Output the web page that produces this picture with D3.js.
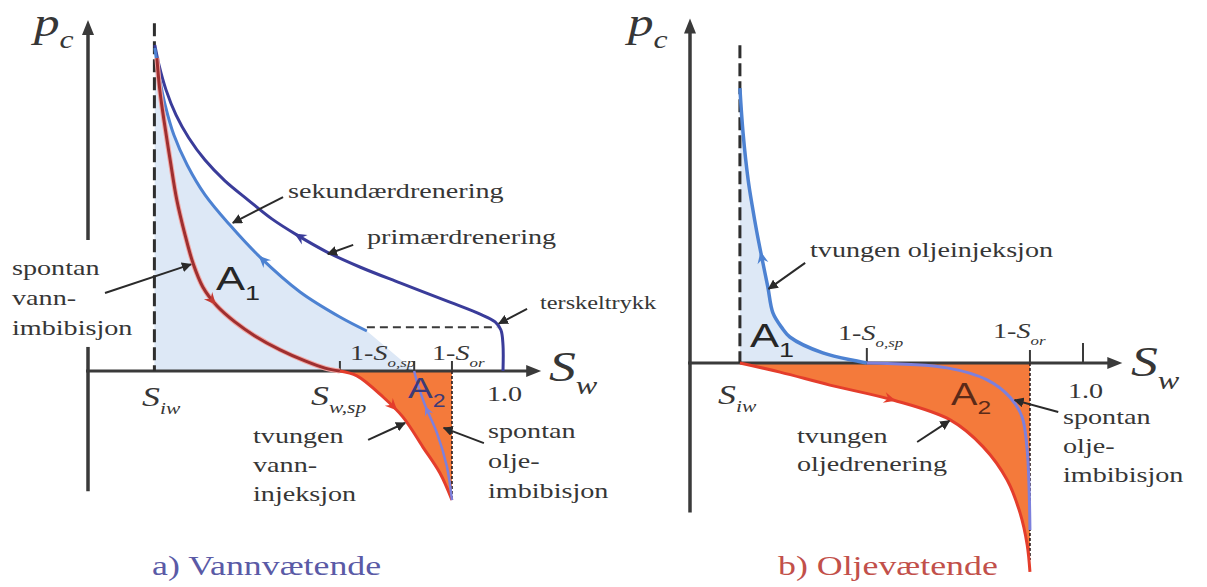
<!DOCTYPE html>
<html>
<head>
<meta charset="utf-8">
<script src="https://cdn.jsdelivr.net/npm/d3@7"></script>
<style>
  html, body { margin: 0; padding: 0; background: #ffffff; }
  svg { display: block; }
  text { font-family: "Liberation Serif", "DejaVu Serif", serif; fill: #363636; }
</style>
</head>
<body>
<svg id="chart" width="1207" height="587"></svg>
<script>
// ---------------------------------------------------------------
// Capillary pressure pc versus water saturation Sw (schematic).
// Saturations are fractions, pc is in relative units.
// ---------------------------------------------------------------

// a) water-wet rock: characteristic saturations
const wwSaturations = { Siw: 0.16, Swsp: 0.607, Sosp: 0.786, Sor: 0.877, one: 1.0 };
const wwThresholdPc = 13.5;

// primary drainage, travelled from Sw = 1.0 towards Siw
const wwPrimaryDrainage = [
  [1.0, 0], [1.0, 8.0], [0.995, 12.6], [0.981, 15.1], [0.945, 17.5], [0.872, 21.2],
  [0.752, 27.1], [0.655, 32.0], [0.576, 36.6], [0.504, 41.8], [0.443, 46.8],
  [0.386, 52.6], [0.33, 58.5], [0.282, 64.9], [0.243, 71.7], [0.212, 78.8],
  [0.188, 86.5], [0.171, 94.2], [0.161, 100.3]
];
// secondary drainage, travelled towards Siw
const wwSecondaryDrainage = [
  [0.672, 12.3], [0.607, 16.6], [0.511, 24.3], [0.414, 35.1], [0.342, 44.9],
  [0.282, 54.2], [0.239, 63.4], [0.207, 72.6], [0.186, 81.8], [0.171, 91.1], [0.161, 99.4]
];
// spontaneous water imbibition, from Siw down to Sw,sp
const wwSpontaneousWaterImbibition = [
  [0.166, 96.3], [0.173, 86.5], [0.183, 77.2], [0.198, 64.9], [0.214, 52.6],
  [0.234, 41.8], [0.253, 33.2], [0.277, 25.8], [0.311, 20.0], [0.354, 15.1],
  [0.402, 10.8], [0.463, 6.5], [0.523, 3.1], [0.571, 0.9], [0.607, 0]
];
// forced water injection, from Sw,sp to 1-Sor
const wwForcedWaterInjection = [
  [0.607, 0], [0.648, -1.5], [0.711, -8.0], [0.759, -14.2], [0.807, -23.4],
  [0.848, -31.4], [0.877, -39.7]
];
// spontaneous oil imbibition, from 1-Sor back to 1-So,sp
const wwSpontaneousOilImbibition = [
  [0.877, -39.7], [0.865, -29.5], [0.841, -19.1], [0.812, -10.5], [0.795, -4.3], [0.786, 0]
];

// b) oil-wet rock: characteristic saturations
const owSaturations = { Siw: 0.127, Sosp: 0.45, Sor: 0.865, one: 1.0 };

// forced oil injection, from 1-So,sp up towards Siw
const owForcedOilInjection = [
  [0.45, 0], [0.425, 0.6], [0.338, 3.1], [0.254, 8.0], [0.234, 10.8], [0.211, 15.4],
  [0.198, 23.4], [0.183, 32.3], [0.17, 40.3], [0.158, 48.6], [0.148, 56.3],
  [0.135, 70.8], [0.127, 84.6]
];
// forced oil drainage, from Siw to 1-Sor
const owForcedOilDrainage = [
  [0.127, 0], [0.229, -2.8], [0.356, -6.8], [0.517, -11.4], [0.662, -17.5],
  [0.746, -25.8], [0.807, -36.0], [0.84, -46.2], [0.858, -56.0], [0.865, -64.3]
];
// spontaneous oil imbibition, from 1-Sor back to 1-So,sp
const owSpontaneousOilImbibition = [
  [0.865, -51.4], [0.863, -39.1], [0.858, -26.8], [0.845, -16.6], [0.814, -10.5],
  [0.756, -5.2], [0.654, -1.5], [0.45, 0]
];

// ---------------------------------------------------------------
const C = {
  axis: "#3a3a3a",
  primary: "#3a3c9a",
  secondary: "#4d82d2",
  imbRed: "#9e2f30",
  imbHalo: "#f2a6a2",
  injRed: "#e43d2b",
  spontBlue: "#7d80dc",
  orange: "#f47a3b",
  lightBlue: "#dde8f6"
};
const SX = 1.28;   // wide lettering: horizontal text stretch

const svg = d3.select("#chart");

svg.append("defs").append("marker")
  .attr("id", "annot-head")
  .attr("viewBox", "0 0 10 10")
  .attr("refX", 9).attr("refY", 5)
  .attr("markerWidth", 5).attr("markerHeight", 5)
  .attr("markerUnits", "strokeWidth")
  .attr("orient", "auto")
  .append("path").attr("d", "M0,0 L10,5 L0,10 Z").attr("fill", "#2a2a2a");

// text helpers -------------------------------------------------
function richText(g, x, y, parts, size, color) {
  const t = g.append("text")
    .attr("transform", `translate(${x},${y}) scale(${SX},1)`)
    .attr("font-size", size);
  if (color) t.style("fill", color);
  parts.forEach(p => {
    const ts = t.append("tspan").text(p.t);
    if (p.i) ts.attr("font-style", "italic");
    if (p.sub) ts.attr("font-size", size * p.sub).attr("dy", size * 0.3);
    if (p.sans) ts.style("font-family", "'Liberation Sans', Arial, sans-serif");
  });
  return t;
}
function block(g, x, y, lines, size, lh) {
  lines.forEach((l, i) => richText(g, x, y + i * lh, [{ t: l }], size));
}

// barbed arrowhead placed on a drawn curve, nearest to a target point
function curveArrow(g, node, target, color, s) {
  const L = node.getTotalLength();
  let best = 0, bd = Infinity;
  for (let l = 0; l <= L; l += 0.5) {
    const p = node.getPointAtLength(l);
    const d = (p.x - target[0]) ** 2 + (p.y - target[1]) ** 2;
    if (d < bd) { bd = d; best = l; }
  }
  const a = node.getPointAtLength(Math.max(0, best - 3));
  const b = node.getPointAtLength(Math.min(L, best + 3));
  const p = node.getPointAtLength(best);
  const ang = Math.atan2(b.y - a.y, b.x - a.x) * 180 / Math.PI;
  s = s || 1;
  g.append("path")
    .attr("d", `M${3*s},0 L${-9*s},${-5.5*s} L${-5*s},0 L${-9*s},${5.5*s} Z`)
    .attr("transform", `translate(${p.x},${p.y}) rotate(${ang})`)
    .attr("fill", color);
}

function annotArrow(g, x, y, from, to) {
  g.append("line")
    .attr("x1", x(from[0])).attr("y1", y(from[1]))
    .attr("x2", x(to[0])).attr("y2", y(to[1]))
    .attr("stroke", "#2a2a2a").attr("stroke-width", 2)
    .attr("marker-end", "url(#annot-head)");
}

function axisArrowUp(g, cx, tipY) {
  g.append("path").attr("d", `M${cx},${tipY} L${cx - 6},${tipY + 15} L${cx + 6},${tipY + 15} Z`)
    .attr("fill", C.axis);
}
function axisArrowRight(g, tipX, cy) {
  g.append("path").attr("d", `M${tipX},${cy} L${tipX - 15},${cy - 6} L${tipX - 15},${cy + 6} Z`)
    .attr("fill", C.axis);
}

const smooth = d3.curveCatmullRom.alpha(0.5);

// ===============================================================
// a) Vannvætende
// ===============================================================
{
  const g = svg.append("g");
  const x = d3.scaleLinear().domain([0, 1]).range([88, 503]);
  const y = d3.scaleLinear().domain([0, 100]).range([371, 46]);
  const line = d3.line().x(d => x(d[0])).y(d => y(d[1])).curve(smooth);
  const s = wwSaturations;

  // area A1 under the secondary drainage curve
  const secTopDown = wwSecondaryDrainage.slice().reverse();
  g.append("path")
    .attr("d", line(secTopDown) + `L${x(s.Sosp)},${y(0)}L${x(s.Siw)},${y(0)}Z`)
    .attr("fill", C.lightBlue);

  // area A2 between forced water injection and 1-Sor
  g.append("path")
    .attr("d", line(wwForcedWaterInjection) + `L${x(s.Sor)},${y(0)}Z`)
    .attr("fill", C.orange);

  // axes (the pc axis is broken around the side label)
  [[-37, 7.4], [40.3, 108]].forEach(seg => {
    g.append("line").attr("x1", x(0)).attr("x2", x(0))
      .attr("y1", y(seg[0])).attr("y2", y(seg[1]) + (seg[1] > 100 ? 12 : 0))
      .attr("stroke", C.axis).attr("stroke-width", 3.5);
  });
  axisArrowUp(g, x(0), y(108));
  g.append("line").attr("x1", x(0) - 2).attr("x2", x(1.092) - 12)
    .attr("y1", y(0)).attr("y2", y(0))
    .attr("stroke", C.axis).attr("stroke-width", 3);
  axisArrowRight(g, x(1.092), y(0));

  // ticks
  [s.Swsp, s.Sosp, s.Sor].forEach(v => {
    g.append("line").attr("x1", x(v)).attr("x2", x(v))
      .attr("y1", y(0)).attr("y2", y(0) - 10)
      .attr("stroke", C.axis).attr("stroke-width", 2);
  });

  // Siw dashed line
  g.append("line").attr("x1", x(s.Siw)).attr("x2", x(s.Siw))
    .attr("y1", y(107)).attr("y2", y(0))
    .attr("stroke", "#2e2e2e").attr("stroke-width", 3)
    .attr("stroke-dasharray", "13,5");
  // 1-Sor dashed line below the axis
  g.append("line").attr("x1", x(s.Sor)).attr("x2", x(s.Sor))
    .attr("y1", y(0)).attr("y2", y(-39.7))
    .attr("stroke", "#3a2a2a").attr("stroke-width", 1.8)
    .attr("stroke-dasharray", "3,2");
  // threshold pressure dashed line
  g.append("line").attr("x1", x(0.672)).attr("x2", x(0.986))
    .attr("y1", y(wwThresholdPc)).attr("y2", y(wwThresholdPc))
    .attr("stroke", "#3a3a3a").attr("stroke-width", 2)
    .attr("stroke-dasharray", "8,5");

  // curves
  const prim = g.append("path").attr("d", line(wwPrimaryDrainage))
    .attr("fill", "none").attr("stroke", C.primary).attr("stroke-width", 3);
  const sec = g.append("path").attr("d", line(wwSecondaryDrainage))
    .attr("fill", "none").attr("stroke", C.secondary).attr("stroke-width", 3);
  g.append("path").attr("d", line(wwSpontaneousWaterImbibition))
    .attr("fill", "none").attr("stroke", C.imbHalo).attr("stroke-width", 5);
  const imb = g.append("path").attr("d", line(wwSpontaneousWaterImbibition))
    .attr("fill", "none").attr("stroke", C.imbRed).attr("stroke-width", 3);
  const inj = g.append("path").attr("d", line(wwForcedWaterInjection))
    .attr("fill", "none").attr("stroke", C.injRed).attr("stroke-width", 3);
  const spo = g.append("path").attr("d", line(wwSpontaneousOilImbibition))
    .attr("fill", "none").attr("stroke", C.spontBlue).attr("stroke-width", 2.5);

  curveArrow(g, prim.node(), [x(0.504), y(41.8)], C.primary);
  curveArrow(g, sec.node(), [x(0.414), y(34.5)], C.secondary);
  curveArrow(g, imb.node(), [x(0.301), y(20.9)], "#c33a33");
  curveArrow(g, inj.node(), [x(0.74), y(-11.4)], C.injRed);
  curveArrow(g, spo.node(), [x(0.814), y(-11.4)], C.spontBlue, 0.8);

  // annotation arrows
  annotArrow(g, x, y, [0.47, 53.5], [0.349, 45.6]);
  annotArrow(g, x, y, [0.639, 38.8], [0.578, 36.0]);
  annotArrow(g, x, y, [1.058, 19.1], [0.99, 14.6]);
  annotArrow(g, x, y, [0.041, 24], [0.248, 32.8]);
  annotArrow(g, x, y, [0.675, -21.2], [0.764, -16]);
  annotArrow(g, x, y, [0.954, -22.2], [0.857, -17.5]);

  // labels
  richText(g, 34, 36, [{ t: "p", i: true }, { t: "c", i: true, sub: 0.62 }], 40);
  richText(g, 549, 381, [{ t: "S", i: true }, { t: "w", i: true, sub: 0.6 }], 42);
  richText(g, 142, 406, [{ t: "S", i: true }, { t: "iw", i: true, sub: 0.6 }], 28);
  richText(g, 311, 405, [{ t: "S", i: true }, { t: "w,sp", i: true, sub: 0.6 }], 28);
  richText(g, 350, 360, [{ t: "1-" }, { t: "S", i: true }, { t: "o,sp", i: true, sub: 0.6 }], 22);
  richText(g, 432, 360, [{ t: "1-" }, { t: "S", i: true }, { t: "or", i: true, sub: 0.6 }], 22);
  richText(g, 487, 401, [{ t: "1.0" }], 22);
  richText(g, 216, 290, [{ t: "A", sans: true }, { t: "1", sans: true, sub: 0.62 }], 34, "#262626");
  richText(g, 408, 398, [{ t: "A", sans: true }, { t: "2", sans: true, sub: 0.62 }], 29, "#3d3a78");

  block(g, 288, 198, ["sekundærdrenering"], 22, 0);
  block(g, 367, 244, ["primærdrenering"], 22, 0);
  block(g, 540, 309, ["terskeltrykk"], 19, 0);
  block(g, 12, 275, ["spontan", "vann-", "imbibisjon"], 22, 30);
  block(g, 253, 443, ["tvungen", "vann-", "injeksjon"], 22, 29);
  block(g, 488, 438, ["spontan", "olje-", "imbibisjon"], 22, 30);

  richText(g, 152, 575, [{ t: "a) Vannvætende" }], 28, "#5a5aa6");
}

// ===============================================================
// b) Oljevætende
// ===============================================================
{
  const g = svg.append("g");
  const x = d3.scaleLinear().domain([0, 1]).range([690, 1083]);
  const y = d3.scaleLinear().domain([0, 100]).range([363, 38]);
  const line = d3.line().x(d => x(d[0])).y(d => y(d[1])).curve(smooth);
  const s = owSaturations;

  // area A1 between Siw and forced oil injection
  g.append("path")
    .attr("d", line(owForcedOilInjection) + `L${x(s.Siw)},${y(84.6)}L${x(s.Siw)},${y(0)}Z`)
    .attr("fill", C.lightBlue);
  // area A2 between forced oil drainage and the axis
  g.append("path")
    .attr("d", line(owForcedOilDrainage) + `L${x(s.Sor)},${y(0)}Z`)
    .attr("fill", C.orange);

  // axes
  g.append("line").attr("x1", x(0)).attr("x2", x(0))
    .attr("y1", y(-46)).attr("y2", y(106) + 12)
    .attr("stroke", C.axis).attr("stroke-width", 3.5);
  axisArrowUp(g, x(0), y(106));
  g.append("line").attr("x1", x(0) - 2).attr("x2", x(1.1) - 12)
    .attr("y1", y(0)).attr("y2", y(0))
    .attr("stroke", C.axis).attr("stroke-width", 3);
  axisArrowRight(g, x(1.1), y(0));

  // ticks
  [[s.Sosp, 15], [s.Sor, 13], [s.one, 20]].forEach(t => {
    g.append("line").attr("x1", x(t[0])).attr("x2", x(t[0]))
      .attr("y1", y(0)).attr("y2", y(0) - t[1])
      .attr("stroke", C.axis).attr("stroke-width", 2);
  });

  // Siw dashed line
  g.append("line").attr("x1", x(s.Siw)).attr("x2", x(s.Siw))
    .attr("y1", y(97.8)).attr("y2", y(0))
    .attr("stroke", "#2e2e2e").attr("stroke-width", 3)
    .attr("stroke-dasharray", "13,5");
  // 1-Sor dashed line below the axis
  g.append("line").attr("x1", x(s.Sor)).attr("x2", x(s.Sor))
    .attr("y1", y(0)).attr("y2", y(-60.6))
    .attr("stroke", "#3a2a2a").attr("stroke-width", 1.8)
    .attr("stroke-dasharray", "3,2");

  // curves
  const finj = g.append("path").attr("d", line(owForcedOilInjection))
    .attr("fill", "none").attr("stroke", C.secondary).attr("stroke-width", 3.5);
  const fdr = g.append("path").attr("d", line(owForcedOilDrainage))
    .attr("fill", "none").attr("stroke", C.injRed).attr("stroke-width", 3);
  g.append("path").attr("d", line(owSpontaneousOilImbibition))
    .attr("fill", "none").attr("stroke", C.spontBlue).attr("stroke-width", 3);

  curveArrow(g, finj.node(), [x(0.173), y(33.2)], C.secondary);
  curveArrow(g, fdr.node(), [x(0.517), y(-11.4)], C.injRed);

  // annotation arrows
  annotArrow(g, x, y, [0.293, 30.8], [0.2, 22.8]);
  annotArrow(g, x, y, [0.578, -24.3], [0.66, -17.8]);
  annotArrow(g, x, y, [0.937, -15.1], [0.826, -11.4]);

  // labels
  richText(g, 628, 36, [{ t: "p", i: true }, { t: "c", i: true, sub: 0.62 }], 40);
  richText(g, 1131, 376, [{ t: "S", i: true }, { t: "w", i: true, sub: 0.6 }], 42);
  richText(g, 718, 404, [{ t: "S", i: true }, { t: "iw", i: true, sub: 0.6 }], 28);
  richText(g, 838, 340, [{ t: "1-" }, { t: "S", i: true }, { t: "o,sp", i: true, sub: 0.6 }], 22);
  richText(g, 993, 338, [{ t: "1-" }, { t: "S", i: true }, { t: "or", i: true, sub: 0.6 }], 22);
  richText(g, 1068, 398, [{ t: "1.0" }], 22);
  richText(g, 750, 347, [{ t: "A", sans: true }, { t: "1", sans: true, sub: 0.62 }], 34, "#262626");
  richText(g, 951, 405, [{ t: "A", sans: true }, { t: "2", sans: true, sub: 0.62 }], 31, "#5a2a18");

  block(g, 810, 257, ["tvungen oljeinjeksjon"], 22, 0);
  block(g, 797, 443, ["tvungen", "oljedrenering"], 22, 28);
  block(g, 1063, 424, ["spontan", "olje-", "imbibisjon"], 22, 29);

  richText(g, 778, 575, [{ t: "b) Oljevætende" }], 28, "#c2504a");
}
</script>
</body>
</html>
